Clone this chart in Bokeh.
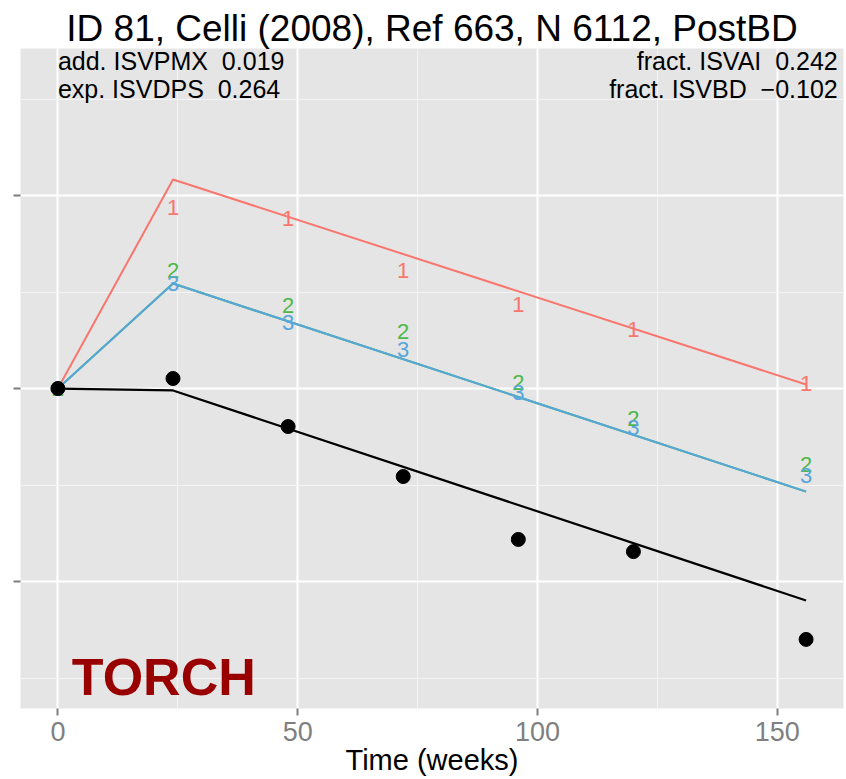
from bokeh.plotting import figure
from bokeh.models import FixedTicker, Range1d, Label, ColumnDataSource
from bokeh.core.properties import value
from bokeh.embed import file_html
from bokeh.resources import INLINE

# ---------------- data ----------------
weeks = [0, 24, 48, 72, 96, 120, 156]
observed = [0.0, 0.0052, -0.0197, -0.0456, -0.0782, -0.0845, -0.1300]

line_x = [0, 24, 156]
model_black = [0.0, -0.0010, -0.1098]
model_1 = [0.0, 0.1083, 0.0021]
model_2 = [0.0, 0.0544, -0.0534]
model_3 = [0.0, 0.0544, -0.0534]

label1_y = [0.0, 0.0938, 0.0881, 0.0611, 0.0435, 0.0306, 0.0026]
label2_y = [0.0, 0.0611, 0.0430, 0.0295, 0.0031, -0.0155, -0.0394]
label3_y = [0.0, 0.0544, 0.0342, 0.0202, -0.0021, -0.0202, -0.0451]

x_ticks = [0, 50, 100, 150]
x_minor = [25, 75, 125]
y_ticks = [-0.1, 0.0, 0.1]
y_minor = [-0.15, -0.05, 0.05, 0.15]

title_text = "ID 81, Celli (2008), Ref 663, N 6112, PostBD"
NB2 = "\u00a0\u00a0"
ann_left = ["add. ISVPMX" + NB2 + "0.019", "exp. ISVDPS" + NB2 + "0.264"]
ann_right = ["fract. ISVAI" + NB2 + "0.242", "fract. ISVBD" + NB2 + "\u22120.102"]
study_name = "TORCH"

RED = "#F8766D"
GREEN = "#4DB848"
BLUE = "#56A6DC"
FONT = "Liberation Sans"

p = figure(width=846, height=779, output_backend="svg", toolbar_location=None,
           x_range=Range1d(-7.8, 163.8), y_range=Range1d(-0.1658, 0.1762),
           min_border_left=20, min_border_right=3, min_border_top=48, min_border_bottom=71)

p.title.text = title_text
p.title.text_font = FONT
p.title.text_font_size = "37px"
p.title.text_font_style = "normal"
p.title.align = "center"
p.title.text_color = "black"
p.title.standoff = 0

p.background_fill_color = "#E5E5E5"
p.border_fill_color = "white"
p.outline_line_color = None

p.xaxis.ticker = FixedTicker(ticks=x_ticks, minor_ticks=x_minor)
p.yaxis.ticker = FixedTicker(ticks=y_ticks, minor_ticks=y_minor)

p.xgrid.grid_line_color = "white"
p.xgrid.grid_line_width = 2
p.xgrid.minor_grid_line_color = "#F4F4F4"
p.xgrid.minor_grid_line_width = 1
p.ygrid.grid_line_color = "white"
p.ygrid.grid_line_width = 2
p.ygrid.minor_grid_line_color = "#F4F4F4"
p.ygrid.minor_grid_line_width = 1

for ax in (p.xaxis, p.yaxis):
    ax.axis_line_color = None
    ax.major_tick_in = 0
    ax.major_tick_out = 7
    ax.major_tick_line_color = "#7F7F7F"
    ax.major_tick_line_width = 2
    ax.minor_tick_out = 0
    ax.minor_tick_in = 0

p.yaxis.major_label_overrides = {t: "" for t in y_ticks}
p.yaxis.major_label_text_font_size = "10px"
p.yaxis.major_label_standoff = 0

p.xaxis.major_label_text_font = FONT
p.xaxis.major_label_text_font_size = "27px"
p.xaxis.major_label_text_color = "#7F7F7F"
p.xaxis.major_label_standoff = 6
p.xaxis.axis_label = "Time (weeks)"
p.xaxis.axis_label_text_font = FONT
p.xaxis.axis_label_text_font_size = "29px"
p.xaxis.axis_label_text_font_style = "normal"
p.xaxis.axis_label_text_color = "black"
p.xaxis.axis_label_standoff = 0

# model lines
p.line(line_x, model_1, line_color=RED, line_width=2)
p.line(line_x, model_2, line_color=GREEN, line_width=2)
p.line(line_x, model_3, line_color=BLUE, line_width=2)
p.line(line_x, model_black, line_color="black", line_width=2.2)

# numbered markers
for ys, txt, col in ((label1_y, "1", RED), (label2_y, "2", GREEN), (label3_y, "3", BLUE)):
    src = ColumnDataSource(dict(x=weeks, y=ys, t=[txt] * len(weeks)))
    p.text(x="x", y="y", text="t", source=src, text_color=col,
           text_font=value(FONT), text_font_size="22px",
           text_align="center", text_baseline="middle")

# observed points
p.scatter(weeks, observed, size=14, color="black")

# annotations
for i, t in enumerate(ann_left):
    p.add_layout(Label(x=0, y=[0.1699, 0.1554][i], text=t, text_font=FONT,
                       text_font_size="25px", text_baseline="middle", text_align="left",
                       text_color="black"))
for i, t in enumerate(ann_right):
    p.add_layout(Label(x=162.6, y=[0.1699, 0.1554][i], text=t, text_font=FONT,
                       text_font_size="25px", text_baseline="middle", text_align="right",
                       text_color="black"))

p.add_layout(Label(x=2.9, y=-0.1497, text=study_name, text_font=FONT,
                   text_font_size="52px", text_font_style="bold", text_color="#990000",
                   text_baseline="alphabetic", text_align="left"))

open("out.html", "w").write(file_html(p, INLINE))
